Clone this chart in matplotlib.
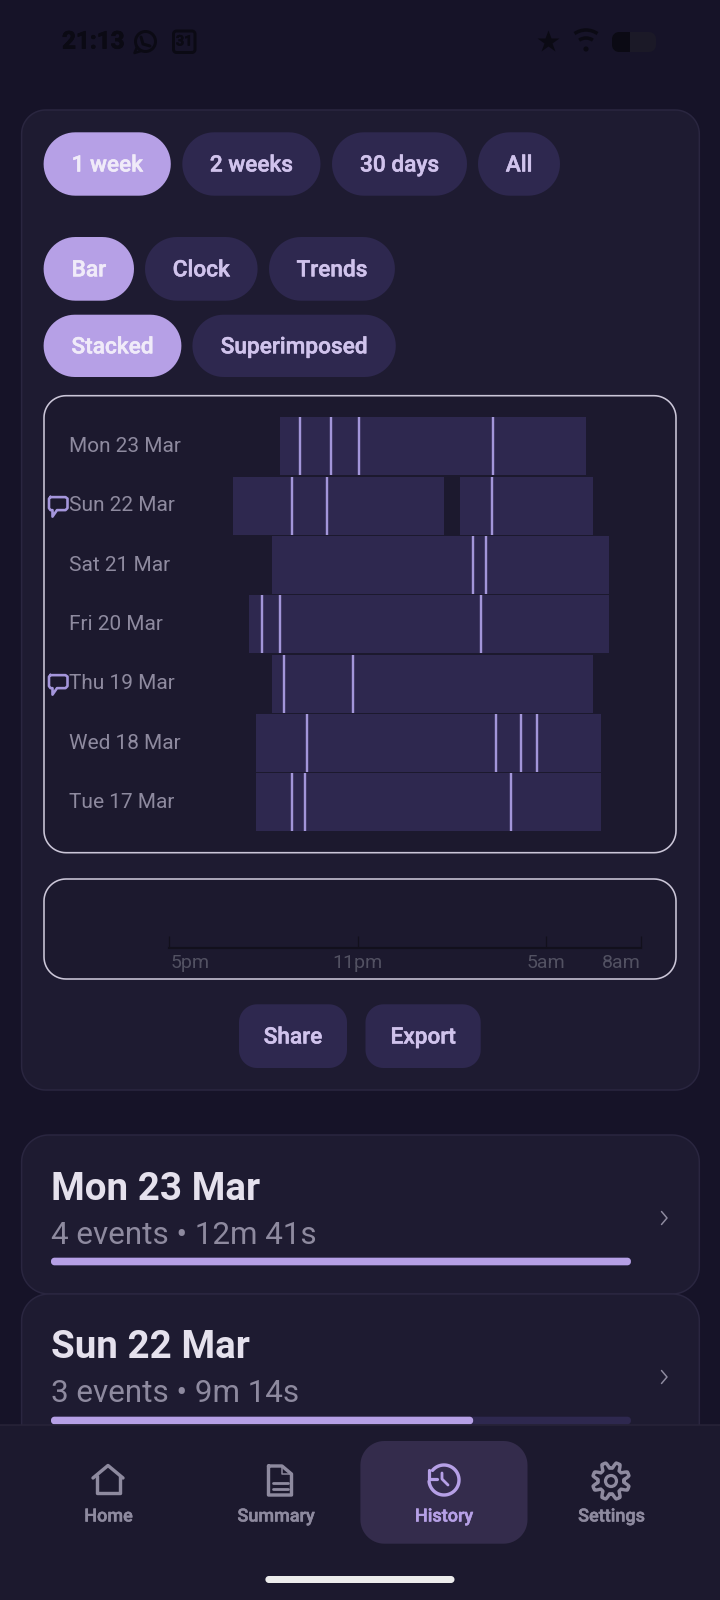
import numpy as np
import matplotlib
matplotlib.use("Agg")
import matplotlib.pyplot as plt
import matplotlib.patheffects as pe
from matplotlib.patches import Polygon, Circle, Rectangle, Arc
from matplotlib.transforms import ScaledTranslation

plt.rcParams['font.family'] = ['Roboto', 'DejaVu Sans']

# ---- chart data (hours after midnight of the previous day; 24 = midnight) ----
days = ["Mon 23 Mar", "Sun 22 Mar", "Sat 21 Mar", "Fri 20 Mar", "Thu 19 Mar", "Wed 18 Mar", "Tue 17 Mar"]
sleep_starts = [[20.52], [19.03, 26.26], [20.26], [19.52], [20.26], [19.77], [19.77]]
sleep_ends = [[30.26], [25.73, 30.5], [31.0], [31.0], [30.49], [30.75], [30.75]]
events = [[21.16, 22.14, 23.04, 27.31], [20.91, 22.03, 27.28], [26.67, 27.09],
          [19.94, 20.52, 26.92], [20.65, 22.84], [21.38, 27.39, 28.2, 28.7], [20.91, 21.32, 27.89]]
has_note = [False, True, False, False, True, False, False]
tick_hours = [17, 23, 29, 32]
tick_labels = ["5pm", "11pm", "5am", "8am"]

range_chips = ["1 week", "2 weeks", "30 days", "All"]
view_chips = ["Bar", "Clock", "Trends"]
mode_chips = ["Stacked", "Superimposed"]
card_titles = ["Mon 23 Mar", "Sun 22 Mar"]
card_subs = ["4 events • 12m 41s", "3 events • 9m 14s"]
card_seconds = [761, 554]
nav_labels = ["Home", "Summary", "History", "Settings"]

# ---- colours ----
BG = '#161328'
CARD = '#1e1b31'
CARD_EDGE = '#2a2640'
BOX = '#1c192e'
BOX_EDGE = '#cbc6d8'
ACCENT = '#b6a0e6'
CHIP = '#2e284f'
CHIP_TXT = '#d0c3ec'
SEL_TXT = '#f0ebf9'
MUTED = '#8e8a9f'
EVENT = '#a396da'
DARK = '#0b0a14'

W, H = 720, 1600
fig = plt.figure(figsize=(W / 100, H / 100), dpi=100, facecolor=BG)
ui = fig.add_axes([0, 0, 1, 1])
ui.set_xlim(0, W)
ui.set_ylim(H, 0)
ui.axis('off')
PT = 0.72  # points per pixel


def rrect(x0, y0, x1, y1, r, fc, ec='none', lw=0, z=1):
    r = min(r, (x1 - x0) / 2, (y1 - y0) / 2)
    pts = []
    for cx, cy, a0 in ((x1 - r, y0 + r, -90), (x1 - r, y1 - r, 0), (x0 + r, y1 - r, 90), (x0 + r, y0 + r, 180)):
        t = np.radians(np.linspace(a0, a0 + 90, 16))
        pts.append(np.column_stack([cx + r * np.cos(t), cy + r * np.sin(t)]))
    ui.add_patch(Polygon(np.vstack(pts), closed=True, fc=fc, ec=ec, lw=lw * PT, zorder=z))


def label(x, y, s, size, color, weight='normal', ha='center', z=5, thick=0):
    t = ui.text(x, y, s, fontsize=size, color=color, fontweight=weight, ha=ha, va='center', zorder=z)
    if thick:
        t.set_path_effects([pe.withStroke(linewidth=thick, foreground=color)])


def stroke(xs, ys, color, lw=3, z=5):
    ui.plot(xs, ys, color=color, lw=lw * PT, solid_capstyle='round', solid_joinstyle='round', zorder=z)


# ---- status bar ----
label(62, 42, "21:13", 17.5, DARK, 'bold', ha='left', thick=0.5)
ui.add_patch(Circle((145.5, 41.5), 10, fc='none', ec=DARK, lw=3 * PT, zorder=5))
stroke([137, 134.5, 141], [47, 53, 51], DARK, 2.5)
stroke([141, 143, 150], [37, 44, 46], DARK, 3)
rrect(173.5, 31, 195, 52.5, 3, 'none', DARK, 3, z=5)
label(184.3, 41.5, "31", 10.5, DARK, 'bold', thick=0.3)
ui.plot([548], [42], marker='*', ms=21 * PT * 1.1, color=DARK, mec='none', zorder=5)
for r, w in ((20, 3.5), (12, 3.5)):
    ui.add_patch(Arc((586, 50), 2 * r, 2 * r, theta1=235, theta2=305, color=DARK, lw=w * PT, zorder=5))
ui.add_patch(Circle((586, 49), 2.6, fc=DARK, ec='none', zorder=5))
rrect(612, 32, 656, 52, 7, '#1b1927', z=4)
rrect(612, 32, 630, 52, 7, DARK, z=5)
ui.add_patch(Rectangle((620, 32), 10, 20, fc=DARK, ec='none', zorder=5))

# ---- main card ----
rrect(21.6, 110, 699.3, 1090, 24, CARD, CARD_EDGE, 1.5)

chip_geometry = [
    (132.3, 195.7, [(43.6, 170.8), (182.3, 320.5), (332, 467), (478, 560)], range_chips),
    (237, 300.7, [(43.6, 134), (145, 257.6), (269, 394.9)], view_chips),
    (314.7, 377, [(43.6, 181.4), (192.4, 395.8)], mode_chips),
]
for y0, y1, spans, names in chip_geometry:
    for i, ((x0, x1), name) in enumerate(zip(spans, names)):
        rrect(x0, y0, x1, y1, (y1 - y0) / 2, ACCENT if i == 0 else CHIP, z=2)
        label((x0 + x1) / 2, (y0 + y1) / 2 + 1, name, 16.3, SEL_TXT if i == 0 else CHIP_TXT, 'medium', thick=0.35)

# chart frames
rrect(44, 395.7, 676, 852.7, 22, BOX, BOX_EDGE, 1.6, z=2)
rrect(44, 879, 676, 979, 22, BOX, BOX_EDGE, 1.6, z=2)

# buttons
for (x0, x1), name in zip([(239, 347), (365.5, 480.7)], ["Share", "Export"]):
    rrect(x0, 1004.3, x1, 1068, 18, CHIP, z=2)
    label((x0 + x1) / 2, 1037, name, 16.3, CHIP_TXT, 'medium', thick=0.35)

# ---- chart axes: x = hours, y = rows ----
X0, X1 = 169.4, 640.5
ROW_TOP, ROW_BOT = 416.6, 832.0
ax = fig.add_axes([X0 / W, 1 - ROW_BOT / H, (X1 - X0) / W, (ROW_BOT - ROW_TOP) / H], facecolor='none', zorder=3)
ax.set_xlim(tick_hours[0], tick_hours[-1])
ax.set_ylim(len(days) - 0.5, -0.5)
BAR_H = 0.978
for i in range(len(days)):
    lefts = sleep_starts[i]
    widths = [e - s for s, e in zip(sleep_starts[i], sleep_ends[i])]
    ax.barh([i] * len(lefts), widths, left=lefts, height=BAR_H, color=CHIP, linewidth=0, zorder=2)
    ax.vlines(events[i], i - BAR_H / 2, i + BAR_H / 2, color=EVENT, lw=2.4 * PT, zorder=3)
ax.set_yticks(range(len(days)), days)
ax.set_xticks([])
ax.tick_params(axis='y', length=0, pad=(X0 - 69.0) * PT, labelsize=15, labelcolor=MUTED)
shift = ScaledTranslation(0, 1.8 / 100, fig.dpi_scale_trans)
for t in ax.get_yticklabels():
    t.set_ha('left')
    t.set_clip_on(False)
    t.set_transform(t.get_transform() + shift)
for s in ax.spines.values():
    s.set_visible(False)

# time axis
AX_TOP, AX_Y = 925.0, 947.7
ax2 = fig.add_axes([X0 / W, 1 - AX_Y / H, (X1 - X0) / W, (AX_Y - AX_TOP) / H], facecolor='none', zorder=3)
ax2.set_xlim(tick_hours[0], tick_hours[-1])
ax2.set_ylim(0, 1)
ax2.set_yticks([])
ax2.set_xticks(tick_hours, tick_labels)
ax2.tick_params(axis='x', direction='in', length=12 * PT, width=1.3 * PT, color='#12101c',
                labelsize=14, labelcolor='#525162', pad=6 * PT)
shift2 = ScaledTranslation(0.8 / 100, 0, fig.dpi_scale_trans)
for t, ha in zip(ax2.get_xticklabels(), ['left', 'center', 'center', 'right']):
    t.set_ha(ha)
    if ha == 'left':
        t.set_transform(t.get_transform() + shift2)
for name, s in ax2.spines.items():
    s.set_visible(name == 'bottom')
ax2.spines['bottom'].set_color('#12101c')
ax2.spines['bottom'].set_linewidth(2.2 * PT)

# note icons
row_pitch = (ROW_BOT - ROW_TOP) / len(days)
for i, flag in enumerate(has_note):
    if flag:
        top = ROW_TOP + (i + 0.5) * row_pitch - 8.5
        xs = [50.5, 65.5, 67.5, 67.5, 65.5, 57, 52.5, 52.5, 50.5, 49, 49, 50.5]
        ys = [top, top, top + 1.5, top + 11, top + 13, top + 13, top + 19.5, top + 13, top + 13, top + 11, top + 1.5, top]
        ui.plot(xs, ys, color='#a596dc', lw=2.6 * PT, solid_joinstyle='round', zorder=6)

# ---- history cards ----
card_tops = [1135, 1294]
card_bots = [1294, 1500]
offsets = dict(title=54, sub=100, bar0=122.7, bar1=130.3, chev=83)
BAR_L, BAR_R = 51, 630.9
for k in range(2):
    top = card_tops[k]
    rrect(21.6, top, 699.3, card_bots[k], 27, CARD, CARD_EDGE, 1.5, z=2 + k)
    label(BAR_L, top + offsets['title'], card_titles[k], 27.7, '#e5e1ed', 'bold', ha='left', z=6)
    label(BAR_L, top + offsets['sub'], card_subs[k], 22.6, MUTED, 'normal', ha='left', z=6)
    b0, b1 = top + offsets['bar0'], top + offsets['bar1']
    rrect(BAR_L, b0, BAR_R, b1, 3.5, CHIP, z=6)
    frac = card_seconds[k] / max(card_seconds)
    rrect(BAR_L, b0, BAR_L + frac * (BAR_R - BAR_L), b1, 3.5, ACCENT, z=7)
    c = top + offsets['chev']
    stroke([661.5, 667, 661.5], [c - 6.5, c, c + 6.5], MUTED, 1.5, z=6)

# ---- navigation ----
ui.add_patch(Rectangle((0, 1425), W, H - 1425, fc='#1c192e', ec='none', zorder=8))
ui.plot([0, W], [1425, 1425], color='#282439', lw=1.5 * PT, zorder=9)
rrect(360.4, 1441, 527.5, 1543.7, 24, '#342c4c', z=9)
nav_x = [108, 275.5, 443.5, 611]
for name, x in zip(nav_labels, nav_x):
    col = ACCENT if name == "History" else MUTED
    label(x + 0.5, 1516.5, name, 13, col, 'medium', z=10, thick=0.35)

# home icon
hx = nav_x[0]
stroke([hx - 15, hx, hx + 15], [1478, 1465.5, 1478], MUTED, 3.4, z=10)
stroke([hx - 11.5, hx - 11.5, hx + 11.5, hx + 11.5], [1476, 1493, 1493, 1476], MUTED, 3.4, z=10)
# document icon
stroke([268.5, 268.5, 291.5, 291.5, 282, 268.5], [1466, 1495, 1495, 1474, 1466, 1466], MUTED, 3.4, z=10)
stroke([282, 282, 291.5], [1466, 1474, 1474], MUTED, 1.5, z=10)
stroke([272.5, 287.5], [1482.5, 1482.5], MUTED, 2.8, z=10)
stroke([272.5, 287.5], [1488.5, 1488.5], MUTED, 2.8, z=10)
# history icon
cx, cy, r = 444, 1480, 15
t = np.radians(np.linspace(-140, 175, 60))
stroke(cx + r * np.cos(t), cy + r * np.sin(t), ACCENT, 3.4, z=10)
stroke([428.5, 428.5, 437], [1470, 1478.5, 1478.5], ACCENT, 3.2, z=10)
stroke([442, 442, 448], [1473, 1479, 1485], ACCENT, 2.8, z=10)
# gear icon
gx, gy = nav_x[3], 1481
a = np.linspace(0, 2 * np.pi, 240)
rad = 15.8 + 2.9 * np.clip(1.6 * np.cos(8 * (a + np.pi / 8)), -1, 1)
stroke(gx + rad * np.cos(a), gy + rad * np.sin(a), MUTED, 3.4, z=10)
ui.add_patch(Circle((gx, gy), 5.5, fc='none', ec=MUTED, lw=3.2 * PT, zorder=10))

# gesture pill
rrect(265.4, 1576, 454.5, 1583, 3.5, '#ececec', z=10)

fig.savefig('out.png', dpi=100, facecolor=BG)
